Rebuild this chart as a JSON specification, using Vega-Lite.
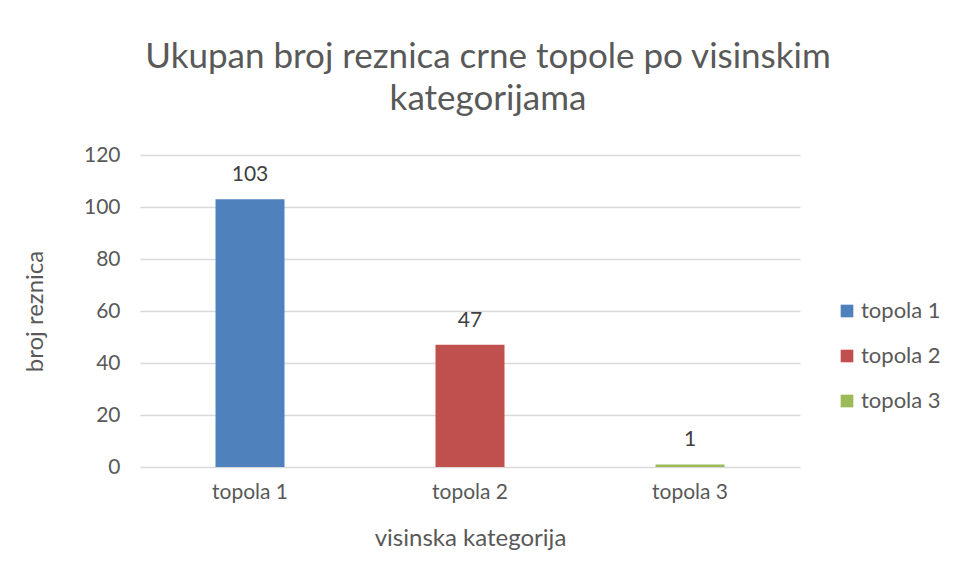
{
  "$schema": "https://vega.github.io/schema/vega-lite/v6.json",
  "autosize": {"type": "none"},
  "width": 660,
  "height": 312,
  "padding": {"left": 140, "top": 155, "right": 156, "bottom": 111},
  "background": "white",
  "data": {"values": [
    {"kat": "topola 1", "n": 103},
    {"kat": "topola 2", "n": 47},
    {"kat": "topola 3", "n": 1}
  ]},
  "title": {
    "text": ["Ukupan broj reznica crne topole po visinskim", "kategorijama"],
    "font": "Lato",
    "fontSize": 35,
    "fontWeight": "normal",
    "color": "#595959",
    "anchor": "middle",
    "lineHeight": 42,
    "offset": 27,
    "dx": 18
  },
  "config": {
    "view": {"stroke": null},
    "font": "Lato",
    "axis": {"labelFont": "Lato", "titleFont": "Lato", "labelColor": "#595959", "titleColor": "#595959", "labelFontSize": 21, "titleFontSize": 24, "titleFontWeight": "normal"},
    "legend": {"labelFont": "Lato", "labelFontSize": 22, "labelColor": "#595959"}
  },
  "encoding": {
    "x": {"field": "kat", "type": "nominal", "sort": null,
      "scale": {"paddingInner": 0, "paddingOuter": 0},
      "axis": {"title": "visinska kategorija", "labelAngle": 0, "ticks": false, "domain": false, "labelPadding": 14, "titlePadding": 24}},
    "y": {"field": "n", "type": "quantitative",
      "scale": {"domain": [0, 120]},
      "axis": {"title": "broj reznica", "values": [0, 20, 40, 60, 80, 100, 120], "ticks": false, "domain": false, "gridColor": "#d9d9d9", "gridWidth": 1.5, "labelPadding": 20, "titlePadding": 36}}
  },
  "layer": [
    {
      "mark": {"type": "bar", "size": 69},
      "encoding": {
        "color": {"field": "kat", "type": "nominal",
          "scale": {"domain": ["topola 1", "topola 2", "topola 3"], "range": ["#4f81bd", "#c0504d", "#9bbb59"]},
          "legend": {"title": null, "orient": "none", "legendX": 696, "legendY": 145, "symbolType": "square", "symbolSize": 160, "symbolStrokeWidth": 0, "rowPadding": 23, "padding": 0, "labelOffset": 3}}
      }
    },
    {
      "mark": {"type": "text", "dy": -24, "fontSize": 21, "color": "#404040"},
      "encoding": {"text": {"field": "n", "type": "quantitative"}}
    }
  ]
}
